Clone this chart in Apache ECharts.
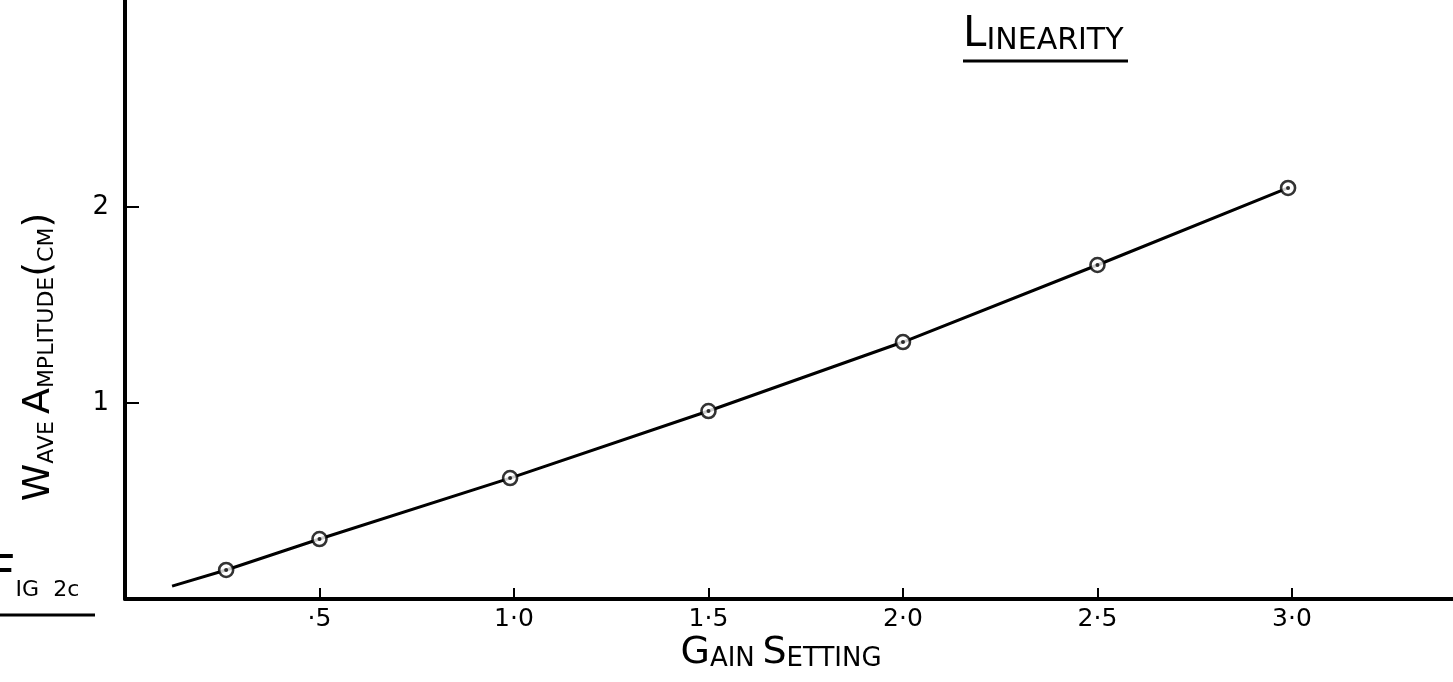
<!DOCTYPE html>
<html>
<head>
<meta charset="utf-8">
<script src="https://cdn.jsdelivr.net/npm/echarts@6/dist/echarts.min.js"></script>
<style>
html,body{margin:0;padding:0;background:#fff;}
#chart{width:1453px;height:682px;}
</style>
</head>
<body>
<div id="chart"></div>
<script>
// Data
const gainSetting = [0.26, 0.5, 0.99, 1.5, 2.0, 2.5, 2.99];
const waveAmplitude = [0.148, 0.306, 0.617, 0.959, 1.311, 1.704, 2.097];
const curveStart = [0.121, 0.066];
const xTicks = [0.5, 1.0, 1.5, 2.0, 2.5, 3.0];
const xTickLabels = ['·5', '1·0', '1·5', '2·0', '2·5', '3·0'];
const yTicks = [1, 2];
const yTickLabels = ['1', '2'];

const points = gainSetting.map((g, i) => [g, waveAmplitude[i]]);
const curve = [curveStart].concat(points);
const FONT = "'DejaVu Sans', sans-serif";

const chart = echarts.init(document.getElementById('chart'));
const option = {
  backgroundColor: '#fff',
  animation: false,
  grid: { left: 125, right: 0, top: 0, bottom: 83, containLabel: false },
  xAxis: {
    type: 'value', min: 0, max: 3.414,
    axisLine: { show: true, onZero: false, lineStyle: { color: '#000', width: 4 } },
    axisTick: { show: true, inside: true, length: 11, customValues: xTicks, lineStyle: { color: '#000', width: 2 } },
    axisLabel: {
      customValues: xTicks, margin: 8, color: '#000', fontSize: 25, fontFamily: FONT,
      formatter: v => { const i = xTicks.findIndex(t => Math.abs(t - v) < 1e-6); return i >= 0 ? xTickLabels[i] : ''; }
    },
    splitLine: { show: false }
  },
  yAxis: {
    type: 'value', min: 0, max: 3.056,
    axisLine: { show: true, onZero: false, lineStyle: { color: '#000', width: 4 } },
    axisTick: { show: true, inside: true, length: 14, customValues: yTicks, lineStyle: { color: '#000', width: 2 } },
    axisLabel: {
      customValues: yTicks, margin: 16, color: '#000', fontSize: 26, fontFamily: FONT,
      formatter: v => { const i = yTicks.findIndex(t => Math.abs(t - v) < 1e-6); return i >= 0 ? yTickLabels[i] : ''; }
    },
    splitLine: { show: false }
  },
  series: [
    { type: 'line', data: curve, showSymbol: false, smooth: false, z: 2,
      lineStyle: { color: '#000', width: 3 } },
    { type: 'scatter', data: points, symbol: 'circle', symbolSize: 14, z: 3,
      itemStyle: { color: '#fff', borderColor: '#000', borderWidth: 2.6 } },
    { type: 'scatter', data: points, symbol: 'circle', symbolSize: 4, z: 4,
      itemStyle: { color: '#000' } }
  ],
  graphic: [
    { type: 'text', left: 963, top: 14, z: 10,
      style: { text: '{b|L}{s|INEARITY}', fill: '#000', fontFamily: FONT,
        rich: { b: { fontSize: 42, fontFamily: FONT, verticalAlign: 'bottom', lineHeight: 44 },
                s: { fontSize: 30, fontFamily: FONT, verticalAlign: 'bottom', lineHeight: 44 } } } },
    { type: 'line', z: 10, shape: { x1: 963, y1: 61, x2: 1128, y2: 61 }, style: { stroke: '#000', lineWidth: 3 } },
    { type: 'text', x: 781, y: 672, z: 10,
      style: { text: '{b|G}{s|AIN}  {b|S}{s|ETTING}', fill: '#000', fontFamily: FONT, align: 'center', verticalAlign: 'bottom',
        rich: { b: { fontSize: 38, fontFamily: FONT, verticalAlign: 'bottom', lineHeight: 40 },
                s: { fontSize: 26, fontFamily: FONT, verticalAlign: 'bottom', lineHeight: 40 } } } },
    { type: 'text', x: 58, y: 357, rotation: Math.PI / 2, z: 10,
      style: { text: '{b|W}{s|AVE }{b|A}{s|MPLITUDE}{b|(}{s|CM}{b|)}', fill: '#000', fontFamily: FONT, align: 'center', verticalAlign: 'bottom',
        rich: { b: { fontSize: 38, fontFamily: FONT, verticalAlign: 'bottom', lineHeight: 40 },
                s: { fontSize: 22, fontFamily: FONT, verticalAlign: 'bottom', lineHeight: 40 } } } },
    { type: 'text', x: -12, y: 601, z: 10,
      style: { text: '{b|F}{s|IG  2c}', fill: '#000', fontFamily: FONT, align: 'left', verticalAlign: 'bottom',
        rich: { b: { fontSize: 48, fontFamily: FONT, verticalAlign: 'bottom', lineHeight: 50 },
                s: { fontSize: 22, fontFamily: FONT, verticalAlign: 'bottom', lineHeight: 50 } } } },
    { type: 'line', z: 10, shape: { x1: 0, y1: 615, x2: 95, y2: 615 }, style: { stroke: '#000', lineWidth: 3 } }
  ]
};
chart.setOption(option);
</script>
</body>
</html>
